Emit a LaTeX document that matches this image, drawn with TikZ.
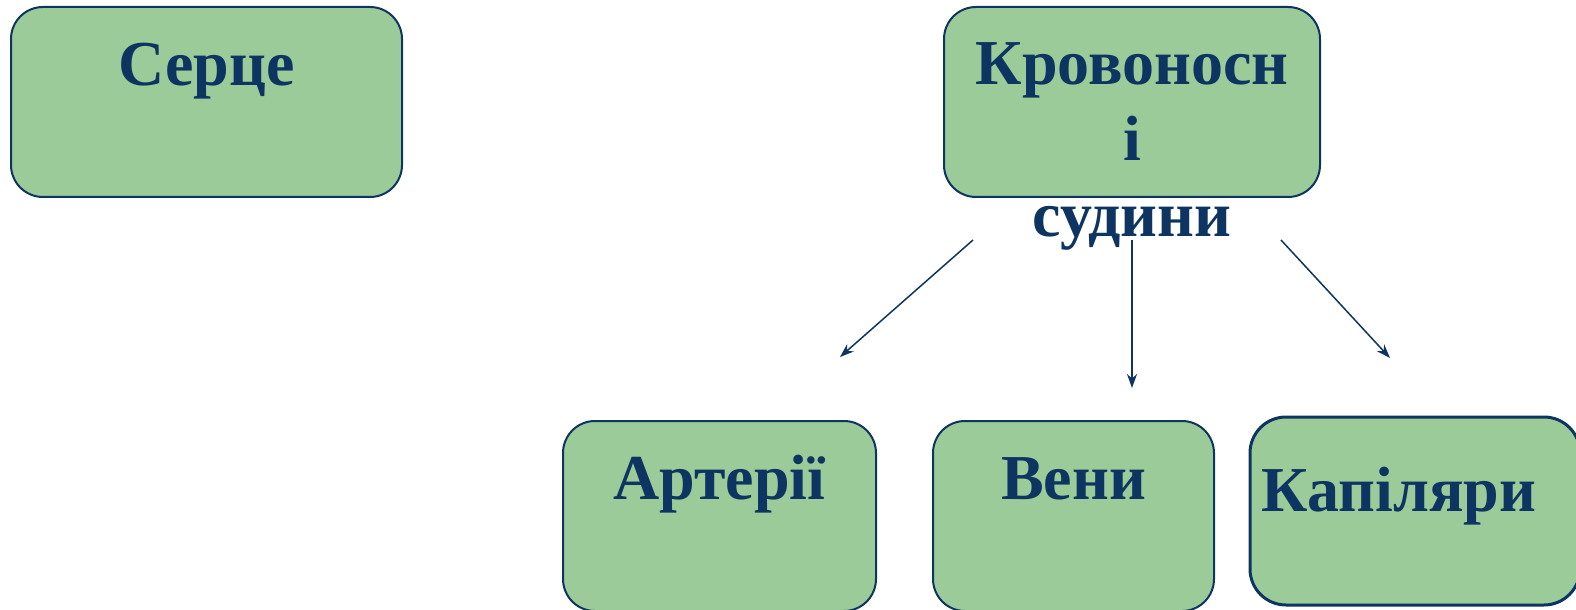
\documentclass[tikz,border=0pt]{standalone}
\usepackage{fontspec}
\setmainfont{Liberation Serif}
\usetikzlibrary{arrows.meta,positioning}
\definecolor{boxgreen}{HTML}{9ACB98}
\definecolor{navy}{HTML}{0E3461}
\tikzset{
  block/.style={rectangle, rounded corners=16pt, draw=navy, fill=boxgreen,
    line width=1pt, inner sep=0pt, minimum height=95pt},
  caption/.style={text=navy, font=\bfseries\fontsize{32pt}{38pt}\selectfont,
    inner sep=0pt, anchor=base, align=center}
}

\begin{document}
\begin{tikzpicture}[x=0.5pt, y=-0.5pt, >={Stealth[length=7pt,width=5pt]}, on grid, line width=0.75pt]
        \clip (0,0) rectangle (1576,610);
        \node[block, minimum width=188pt]   (krov)  at (1132,102)                 {};
        \node[block, minimum width=195.5pt] (serce) [left=462.75pt of krov]       {};
        \node[block, minimum width=140.5pt] (veny)  at (1073.5,516)               {};
        \node[block, minimum width=156.5pt] (art)   [left=177pt of veny]          {};
        \node[block, minimum width=165pt, minimum height=94pt, rounded corners=18pt,
              line width=1.5pt]             (kap)   [right=170.75pt of veny, yshift=2.5pt] {};

        \node[caption] (serce-t) at ([yshift=-40pt]serce.north)            {Серце};
        \node[caption] (krov-t)  at ([yshift=-115pt]krov.north)            {Кровоносн\\і\\судини};
        \node[caption] (art-t)   at ([yshift=-39.5pt]art.north)            {Артерії};
        \node[caption] (veny-t)  at ([yshift=-39.5pt]veny.north)           {Вени};
        \node[caption] (kap-t)   at ([xshift=-8pt, yshift=-48pt]kap.north) {Капіляри};

        \coordinate (krov-l)  at (973,240);
        \coordinate (krov-m)  at (1132,240);
        \coordinate (krov-r)  at (1281,240);
        \coordinate (art-in)  at (840,357);
        \coordinate (veny-in) at (1132,388);
        \coordinate (kap-in)  at (1390,358);

        \path[->, navy] (krov-l) edge (art-in)
                        (krov-m) edge (veny-in)
                        (krov-r) edge (kap-in);
      \end{tikzpicture}
\end{document}
